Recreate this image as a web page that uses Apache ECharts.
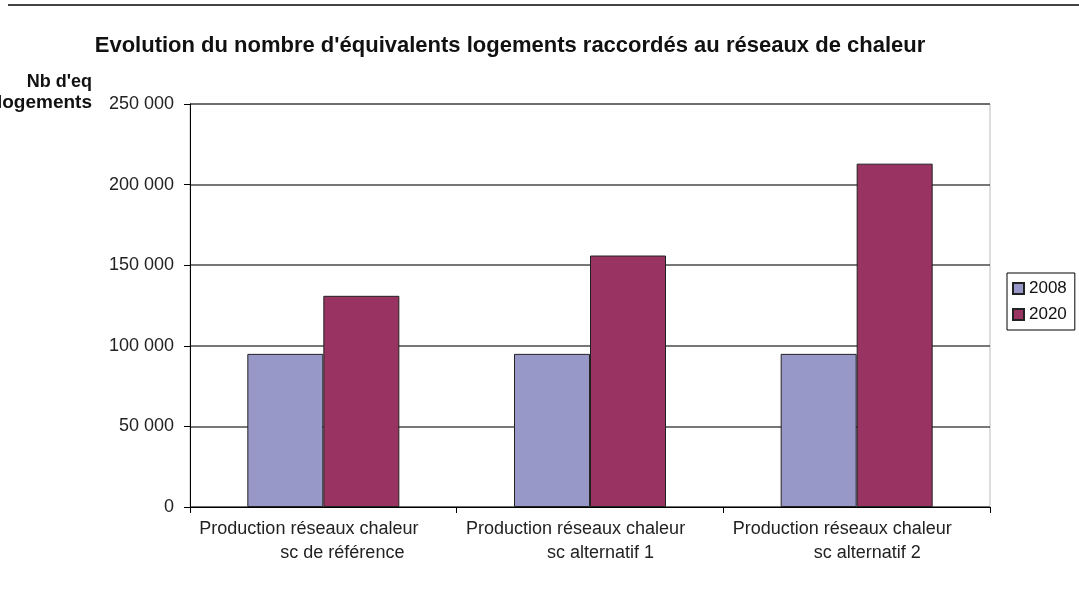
<!DOCTYPE html>
<html>
<head>
<meta charset="utf-8">
<script src="https://cdn.jsdelivr.net/npm/echarts@6/dist/echarts.min.js"></script>
<style>
  html, body { margin: 0; padding: 0; background: #fff; }
  #chart { width: 1079px; height: 592px; }
</style>
</head>
<body>
<div id="chart"></div>
<script>
// data
var categories = ['sc de référence', 'sc alternatif 1', 'sc alternatif 2'];
var values2008 = [95000, 95000, 95000];
var values2020 = [131000, 156000, 213000];
var yTicks = { min: 0, max: 250000, interval: 50000 };

var chart = echarts.init(document.getElementById('chart'));
var font = 'Liberation Sans, Arial, sans-serif';

function fmt (v) {
  return String(v).replace(/\B(?=(\d{3})+(?!\d))/g, ' ');
}

var option = {
  animation: false,
  title: {
    text: "Evolution du nombre d'équivalents logements raccordés au réseaux de chaleur",
    left: 505,
    textAlign: 'center',
    top: 30,
    textStyle: { fontFamily: font, fontSize: 22, fontWeight: 'bold', color: '#111' }
  },
  graphic: [
    { type: 'line', shape: { x1: 8, y1: 5, x2: 1079, y2: 5 }, style: { stroke: '#444', lineWidth: 2 } },
    {
      type: 'text', x: 92, y: 73,
      style: {
        text: "Nb d'eq", fontFamily: font, fontSize: 18, fontWeight: 'bold',
        fill: '#111', textAlign: 'right', textVerticalAlign: 'top'
      }
    },
    {
      type: 'text', x: 92, y: 93,
      style: {
        text: 'logements', fontFamily: font, fontSize: 19, fontWeight: 'bold',
        fill: '#111', textAlign: 'right', textVerticalAlign: 'top'
      }
    }
  ],
  legend: {
    orient: 'vertical',
    left: 1007,
    top: 273,
    icon: 'rect',
    itemWidth: 11,
    itemHeight: 11,
    itemGap: 9,
    padding: [7, 8, 7, 5],
    borderColor: '#000',
    borderWidth: 1,
    textStyle: { fontFamily: font, fontSize: 17, color: '#111' },
    data: ['2008', '2020']
  },
  grid: {
    left: 190, right: 89, top: 104, bottom: 85,
    show: true, borderColor: '#bbb', borderWidth: 1
  },
  xAxis: {
    type: 'category',
    data: categories,
    axisLine: { lineStyle: { color: '#000', width: 1 } },
    axisTick: { show: true, length: 6, lineStyle: { color: '#000' } },
    axisLabel: {
      margin: 10,
      interval: 0,
      formatter: function (v) { return '{a|Production réseaux chaleur}\n{b|' + v + '}'; },
      rich: {
        a: { fontFamily: font, fontSize: 18, color: '#222', lineHeight: 24, width: 248, align: 'left' },
        b: { fontFamily: font, fontSize: 18, color: '#222', lineHeight: 24, width: 167, align: 'left', padding: [0, 0, 0, 81] }
      }
    }
  },
  yAxis: {
    type: 'value',
    min: yTicks.min,
    max: yTicks.max,
    interval: yTicks.interval,
    axisLine: { show: true, lineStyle: { color: '#000', width: 1 } },
    axisTick: { show: true, length: 6, lineStyle: { color: '#000' } },
    axisLabel: { margin: 16, fontFamily: font, fontSize: 18, color: '#222', formatter: fmt },
    splitLine: { lineStyle: { color: '#4a4a4a', width: 1.5 } }
  },
  series: [
    {
      name: '2008', type: 'bar', data: values2008,
      barGap: '0%', barCategoryGap: '43%',
      itemStyle: { color: '#9797c8', borderColor: '#222', borderWidth: 1 }
    },
    {
      name: '2020', type: 'bar', data: values2020,
      itemStyle: { color: '#993462', borderColor: '#222', borderWidth: 1 }
    }
  ]
};

chart.setOption(option);
</script>
</body>
</html>
